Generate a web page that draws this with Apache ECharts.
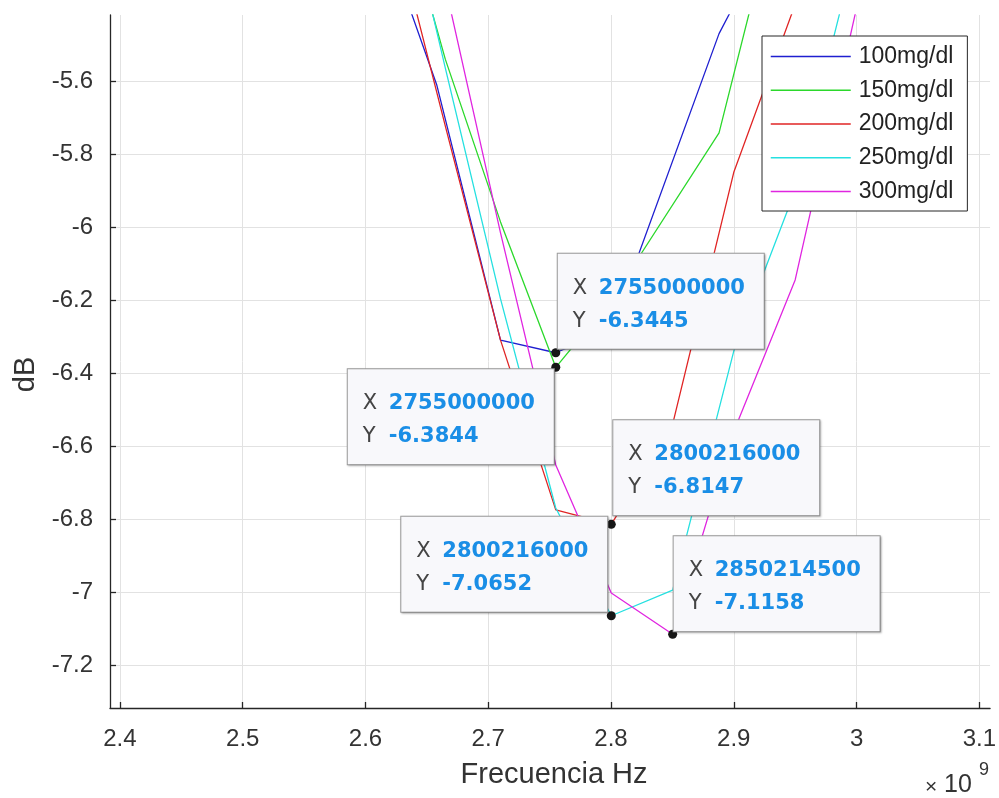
<!DOCTYPE html>
<html>
<head>
<meta charset="utf-8">
<script src="https://cdn.jsdelivr.net/npm/echarts@6/dist/echarts.min.js"></script>
<style>
  html, body { margin: 0; padding: 0; background: #fff; }
  #chart { width: 999px; height: 798px; }
</style>
</head>
<body>
<div id="chart"></div>
<script>
// ---------------- data ----------------
const seriesNames = ['100mg/dl', '150mg/dl', '200mg/dl', '250mg/dl', '300mg/dl'];

const freq100 = [2.62e9, 2.658e9, 2.71e9, 2.755e9, 2.800216e9, 2.888e9, 2.93e9];
const db100   = [-5.248, -5.61, -6.31, -6.3445, -6.28, -5.47, -5.20];

const freq150 = [2.62e9, 2.665e9, 2.71e9, 2.755e9, 2.800216e9, 2.888e9, 2.93e9];
const db150   = [-5.00, -5.54, -5.986, -6.3844, -6.20, -5.742, -5.18];

const freq200 = [2.62e9, 2.665e9, 2.71e9, 2.755e9, 2.800216e9, 2.8502145e9, 2.9e9, 2.95e9];
const db200   = [-5.126, -5.723, -6.31, -6.775, -6.8147, -6.54, -5.85, -5.39];

const freq250 = [2.62e9, 2.665e9, 2.71e9, 2.755e9, 2.800216e9, 2.8502145e9, 2.9e9, 2.95e9, 3.0e9];
const db250   = [-4.918, -5.564, -6.197, -6.77, -7.0652, -6.995, -6.34, -5.90, -5.23];

const freq300 = [2.62e9, 2.665e9, 2.71e9, 2.755e9, 2.800216e9, 2.8502145e9, 2.9e9, 2.95e9, 3.0e9];
const db300   = [-4.65, -5.34, -6.016, -6.652, -7.003, -7.1158, -6.56, -6.145, -5.40];

// data tips
const tipFreq = [2755000000, 2755000000, 2800216000, 2800216000, 2850214500];
const tipDb   = [-6.3445, -6.3844, -6.8147, -7.0652, -7.1158];

// axis ranges
const xMin = 2.3919e9, xMax = 3.10875e9;
const yMin = -7.318, yMax = -5.419;
const xAxisTitle = 'Frecuencia Hz';
const yAxisTitle = 'dB';
const xExponentBase = '10';
const xExponent = '9';

// ---------------- styles ----------------
const lineColors = ['#1f1fd0', '#2bd82b', '#e02424', '#25e0e0', '#e025e0'];
const tipContentWidth = 170;
const tipPad = [18, 21, 11, 15];
const tipBoxWidth = tipContentWidth + tipPad[1] + tipPad[3];
// side: 1 = box to the right of point, -1 = box to the left
const tipPlacement = [
  { side: 1,  verticalAlign: 'bottom', dx: 2,  dy: -4 },
  { side: -1, verticalAlign: 'top',    dx: -2, dy: 2 },
  { side: 1,  verticalAlign: 'bottom', dx: 2,  dy: -9 },
  { side: -1, verticalAlign: 'bottom', dx: -4, dy: -4 },
  { side: 1,  verticalAlign: 'bottom', dx: 1,  dy: -3 }
];
const axisColor = '#333333';
const fontFam = '"Liberation Sans", Arial, sans-serif';

const freqs = [freq100, freq150, freq200, freq250, freq300];
const dbs = [db100, db150, db200, db250, db300];

const lineSeries = seriesNames.map((name, i) => ({
  name: name,
  type: 'line',
  symbol: 'none',
  showSymbol: false,
  z: 2,
  data: freqs[i].map((f, j) => [f, dbs[i][j]]),
  lineStyle: { color: lineColors[i], width: 1.3 },
  itemStyle: { color: lineColors[i] },
  emphasis: { disabled: true },
  animation: false
}));

const tipSeries = {
  name: 'tips',
  type: 'scatter',
  z: 5,
  symbol: 'circle',
  symbolSize: 9,
  itemStyle: { color: '#161616', opacity: 1 },
  animation: false,
  data: tipFreq.map((f, i) => {
    const pl = tipPlacement[i];
    const ox = pl.side > 0 ? pl.dx : pl.dx - tipBoxWidth;
    return {
      value: [f, tipDb[i]],
      label: { verticalAlign: pl.verticalAlign, offset: [ox, pl.dy] }
    };
  }),
  label: {
    show: true,
    position: 'inside',
    align: 'left',
    width: tipContentWidth,
    overflow: 'none',
    opacity: 1,
    formatter: function (p) {
      return '{k|X}{v|' + String(p.value[0]) + '}\n{k|Y}{v|' + String(p.value[1]) + '}';
    },
    backgroundColor: '#f8f8fb',
    borderColor: '#9c9c9c',
    borderWidth: 1,
    padding: tipPad,
    shadowColor: 'rgba(0,0,0,0.22)',
    shadowBlur: 2,
    shadowOffsetX: 1,
    shadowOffsetY: 1,
    rich: {
      k: { width: 26, color: '#444444', fontSize: 21, fontFamily: '"DejaVu Sans", sans-serif', lineHeight: 33 },
      v: { color: '#1a8ee6', fontSize: 21, fontWeight: 'bold', fontFamily: '"DejaVu Sans", sans-serif', lineHeight: 33 }
    }
  },
  emphasis: { disabled: true }
};

const option = {
  backgroundColor: '#ffffff',
  animation: false,
  grid: { left: 110, right: 8, top: 15, bottom: 90, containLabel: false },
  legend: {
    data: seriesNames,
    orient: 'vertical',
    left: 762,
    top: 36,
    padding: [9, 14, 8, 8],
    itemWidth: 80,
    itemHeight: 14,
    itemGap: 10.75,
    backgroundColor: '#ffffff',
    borderColor: '#262626',
    borderWidth: 1,
    borderRadius: 0,
    selectedMode: false,
    itemStyle: { opacity: 0, borderWidth: 0 },
    lineStyle: { width: 1.5, opacity: 1 },
    textStyle: { fontSize: 23, lineHeight: 22, color: '#222222', fontFamily: fontFam, padding: [0, 0, 0, 3] }
  },
  xAxis: {
    type: 'value',
    min: xMin,
    max: xMax,
    splitNumber: 7,
    minInterval: 1e8,
    maxInterval: 1e8,
    name: xAxisTitle,
    nameLocation: 'middle',
    nameGap: 52,
    nameTextStyle: { fontSize: 29, color: axisColor, fontFamily: fontFam, padding: [0, 0, 0, 8] },
    axisLine: { show: true, onZero: false, lineStyle: { color: '#262626', width: 1.3 } },
    axisTick: { show: true, inside: true, length: 6, lineStyle: { color: '#262626', width: 1.3 } },
    axisLabel: {
      margin: 19,
      fontSize: 24,
      color: axisColor,
      fontFamily: fontFam,
      showMinLabel: false,
      showMaxLabel: false,
      formatter: function (v) { return String(Math.round(v / 1e8) / 10); }
    },
    splitLine: { show: true, showMinLine: false, showMaxLine: false, lineStyle: { color: '#e2e2e2', width: 1 } }
  },
  yAxis: {
    type: 'value',
    min: yMin,
    max: yMax,
    splitNumber: 9,
    minInterval: 0.2,
    maxInterval: 0.2,
    name: yAxisTitle,
    nameLocation: 'middle',
    nameRotate: 90,
    nameGap: 62,
    nameTextStyle: { fontSize: 29, color: axisColor, fontFamily: fontFam, padding: [0, 26, 0, 0] },
    axisLine: { show: true, onZero: false, lineStyle: { color: '#262626', width: 1.3 } },
    axisTick: { show: true, inside: true, length: 6, lineStyle: { color: '#262626', width: 1.3 } },
    axisLabel: {
      margin: 17,
      fontSize: 24,
      color: axisColor,
      fontFamily: fontFam,
      showMinLabel: false,
      showMaxLabel: false,
      formatter: function (v) { return String(Math.round(v * 10) / 10); }
    },
    splitLine: { show: true, showMinLine: false, showMaxLine: false, lineStyle: { color: '#e2e2e2', width: 1 } }
  },
  graphic: [
    {
      type: 'text',
      left: 925,
      top: 777,
      style: { text: '\u00d7', fontSize: 21, fill: axisColor, fontFamily: fontFam }
    },
    {
      type: 'text',
      left: 944,
      top: 773,
      style: { text: xExponentBase, fontSize: 25, fill: axisColor, fontFamily: fontFam }
    },
    {
      type: 'text',
      left: 979,
      top: 761,
      style: { text: xExponent, fontSize: 18, fill: axisColor, fontFamily: fontFam }
    }
  ],
  series: lineSeries.concat([tipSeries])
};

const chart = echarts.init(document.getElementById('chart'), null, { renderer: 'canvas' });
chart.setOption(option);
</script>
</body>
</html>
